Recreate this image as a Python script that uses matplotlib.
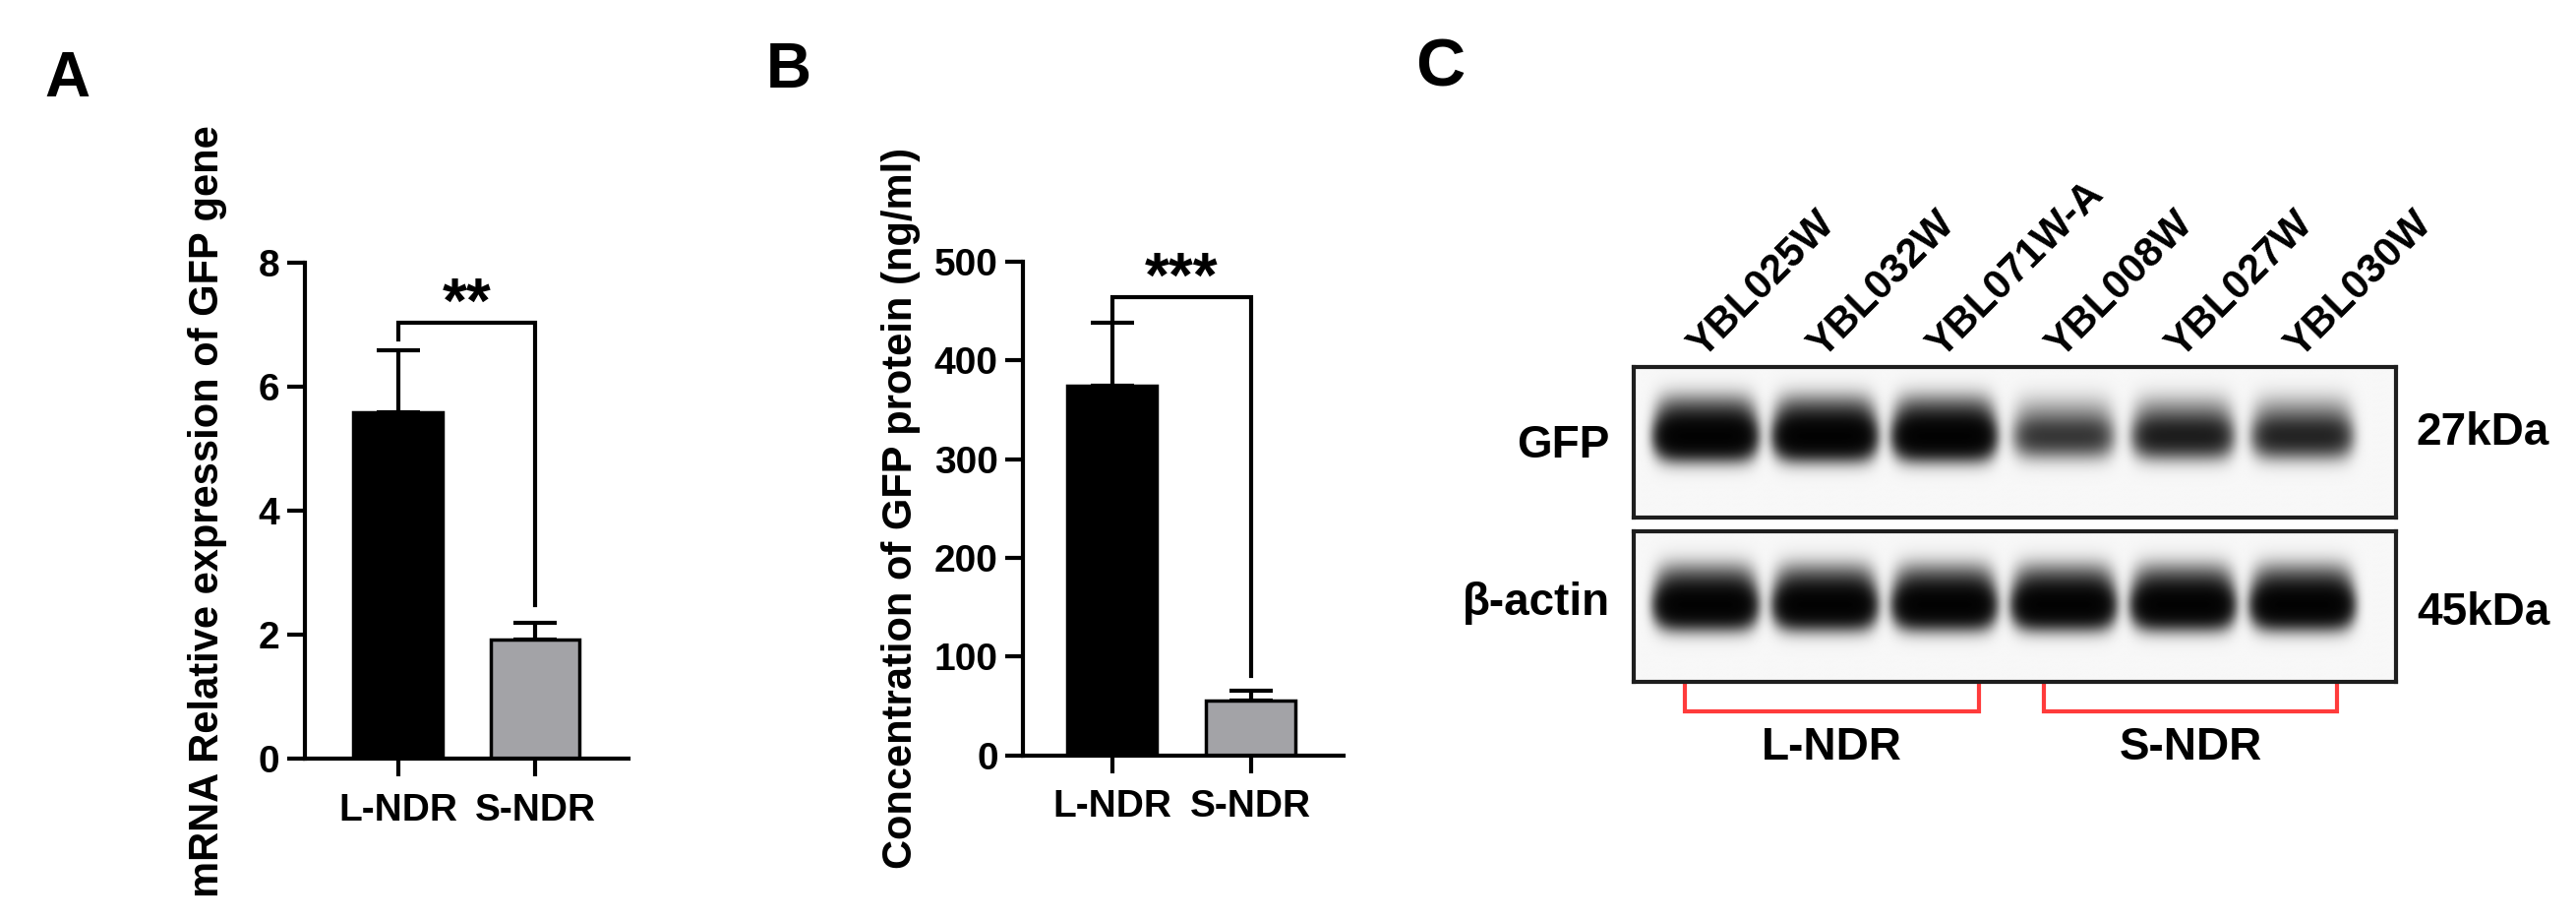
import numpy as np
import matplotlib.pyplot as plt

plt.rcParams['font.family'] = ['Liberation Sans', 'DejaVu Sans']
plt.rcParams['font.weight'] = 'bold'
plt.rcParams['axes.labelweight'] = 'bold'

# -------- Data --------
groups = ['L-NDR', 'S-NDR']
bar_colors = ['black', '#a3a3a7']

# A: mRNA relative expression of GFP gene
mrna_mean = [5.6, 1.92]
mrna_err = [0.99, 0.28]
mrna_ticks = [0, 2, 4, 6, 8]
mrna_bracket = [6.76, 7.04, 2.49]   # left leg end, top, right leg end
mrna_sig = '**'

# B: concentration of GFP protein
prot_mean = [374, 55]
prot_err = [64, 10]
prot_ticks = [0, 100, 200, 300, 400, 500]
prot_bracket = [442, 464, 80]
prot_sig = '***'

# C: western blot
lanes = ['YBL025W', 'YBL032W', 'YBL071W-A', 'YBL008W', 'YBL027W', 'YBL030W']
lane_group = [0, 0, 0, 1, 1, 1]
gfp_level = [1.0, 1.0, 1.0, 0.35, 0.5, 0.45]
actin_level = [1.0, 1.0, 1.0, 1.0, 1.0, 1.0]
blot_rows = ['GFP', 'β-actin']
blot_sizes = ['27kDa', '45kDa']

fig = plt.figure(figsize=(26.19, 9.33), dpi=100)


# -------- Bar panels --------
def bar_panel(rect, mean, err, ticks, bracket, sig, ylabel, xlim, width):
    ax = fig.add_axes(rect)
    x = np.arange(len(groups))
    ax.bar(x, mean, width=width, color=bar_colors, edgecolor='black',
           linewidth=2.5, zorder=2)
    ax.errorbar(x, mean, yerr=[np.zeros(len(err)), err], fmt='none',
                ecolor='black', elinewidth=3, capsize=16, capthick=3, zorder=1)
    # significance bracket
    ax.plot([0, 0, 1, 1], [bracket[0], bracket[1], bracket[1], bracket[2]],
            color='black', lw=3, clip_on=False, solid_joinstyle='miter')
    ax.text(0.5, bracket[1], sig, ha='center', va='baseline', fontsize=46)

    ax.set_xlim(xlim)
    ax.set_ylim(ticks[0], ticks[-1])
    ax.set_yticks(ticks)
    ax.set_xticks(x)
    ax.set_xticklabels(groups)
    for s in ['top', 'right']:
        ax.spines[s].set_visible(False)
    for s in ['left', 'bottom']:
        ax.spines[s].set_linewidth(3)
    ax.tick_params(axis='both', length=13, width=3, labelsize=28)
    ax.tick_params(axis='y', pad=5)
    ax.tick_params(axis='x', pad=12)
    ax.set_ylabel(ylabel, fontsize=30, fontweight='bold', va='center')
    return ax


axA = bar_panel([0.1182, 0.1731, 0.1258, 0.5404], mrna_mean, mrna_err, mrna_ticks,
                mrna_bracket, mrna_sig, 'mRNA Relative expression of GFP gene',
                (-0.683, 1.682), 0.65)
axA.yaxis.set_label_coords(-0.30, 0.5)

axB = bar_panel([0.3970, 0.1773, 0.1246, 0.5376], prot_mean, prot_err, prot_ticks,
                prot_bracket, prot_sig, 'Concentration of GFP protein (ng/ml)',
                (-0.645, 1.67), 0.645)
axB.yaxis.set_label_coords(-0.379, 0.5)


# -------- Western blot --------
xlo, xhi = -0.6, 5.78


def blot(rect, levels, band_y, row, size, row_y, size_y):
    ax = fig.add_axes(rect)
    xs = np.linspace(xlo, xhi, 900)
    ys = np.linspace(0, 1, 220)   # fraction from top of strip
    X, Y = np.meshgrid(xs, ys)
    dens = np.zeros_like(X)
    for i, lv in enumerate(levels):
        hx = np.exp(-((X - i) / 0.4) ** 6)
        core = np.exp(-0.5 * ((Y - band_y) / 0.085) ** 2)
        halo = 0.25 * np.exp(-0.5 * ((Y - band_y + 0.15) / 0.09) ** 2)
        dens += lv * hx * (core + halo)
    img = 1 - np.exp(-4 * dens)
    img = 0.03 + 0.97 * img
    ax.imshow(img, cmap='gray_r', vmin=0, vmax=1, extent=[xlo, xhi, 0, 1],
              aspect='auto', interpolation='bilinear')
    ax.set_xlim(xlo, xhi)
    ax.set_ylim(0, 1)
    ax.set_xticks([])
    ax.set_yticks([])
    for s in ax.spines.values():
        s.set_linewidth(3)
        s.set_color('#1e1e1e')
    ax.text(-0.031, row_y, row, transform=ax.transAxes, ha='right', va='center',
            fontsize=33)
    ax.text(1.027, size_y, size, transform=ax.transAxes, ha='left', va='center',
            fontsize=33)
    return ax


axG = blot([0.6342, 0.4362, 0.2959, 0.164], gfp_level, 0.47,
           blot_rows[0], blot_sizes[0], 0.477, 0.562)
axAc = blot([0.6342, 0.2572, 0.2959, 0.164], actin_level, 0.50,
            blot_rows[1], blot_sizes[1], 0.523, 0.457)

# lane names
for i, name in enumerate(lanes):
    axG.text(i - 0.02, 1.052, name, transform=axG.get_xaxis_transform(),
             rotation=45, rotation_mode='anchor', ha='left', va='baseline',
             fontsize=30)

# group brackets
for g, gname in enumerate(groups):
    idx = [i for i, lg in enumerate(lane_group) if lg == g]
    x0, x1 = min(idx) - 0.17, max(idx) + 0.29
    axAc.plot([x0, x0, x1, x1], [-0.026, -0.196, -0.196, -0.026],
              transform=axAc.get_xaxis_transform(), color='#ff3b3b', lw=3,
              clip_on=False, solid_joinstyle='miter')
    axAc.text((x0 + x1) / 2, -0.44, gname, transform=axAc.get_xaxis_transform(),
              ha='center', va='center', fontsize=33)

# panel letters
fig.text(45 / 2619, 1 - 51 / 933, 'A', fontsize=46, va='top', ha='left')
fig.text(779 / 2619, 1 - 42 / 933, 'B', fontsize=46, va='top', ha='left')
fig.text(1439 / 2619, 1 - 38 / 933, 'C', fontsize=50, va='top', ha='left')

fig.savefig('out.png', dpi=100)
